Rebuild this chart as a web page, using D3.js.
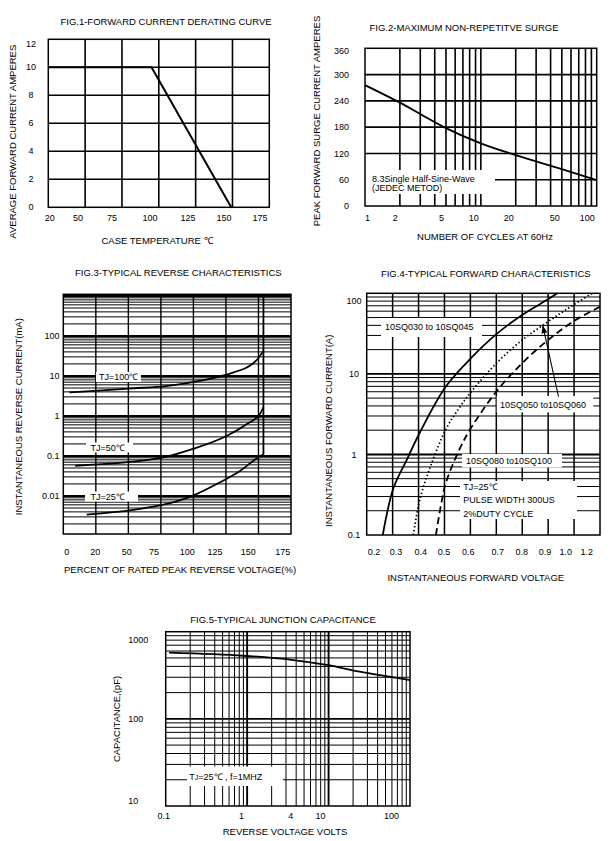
<!DOCTYPE html>
<html><head><meta charset="utf-8">
<script src="https://cdn.jsdelivr.net/npm/d3@7"></script>
<style>
body{margin:0;background:#fff}
text{font-family:"Liberation Sans",Arial,sans-serif;font-size:9px;fill:#000}
text.ttl{font-size:9.5px}
</style>
</head><body>
<svg id="c" width="611" height="841" xmlns="http://www.w3.org/2000/svg"></svg>
<script>
// ---------------- DATA ----------------
// Fig.1 Forward current derating curve
const fig1XTicks = [20, 50, 75, 100, 125, 150, 175];
const fig1YTicks = [0, 2, 4, 6, 8, 10, 12];
const fig1Temp = [20, 101, 155];
const fig1Current = [10, 10, 0];

// Fig.2 Maximum non-repetitive surge
const fig2XTicks = [1, 2, 5, 10, 20, 50, 100];
const fig2YTicks = [0, 60, 120, 180, 240, 300, 360];
const fig2Cycles = [1, 2, 3, 5, 10, 20, 50, 100];
const fig2Surge = [276, 236, 210, 178, 143, 116, 84, 59];

// Fig.3 Typical reverse characteristics
const fig3XTicks = [0, 20, 50, 75, 100, 125, 150, 175];
const fig3YTicks = [0.01, 0.1, 1, 10, 100];
const fig3Tj100X = [2, 56, 84, 112, 139, 151, 157, 161];
const fig3Tj100Y = [3.9, 4.9, 5.6, 7.6, 12.3, 18, 27, 43];
const fig3Tj50X = [6, 80, 105, 134, 149, 158.5, 161];
const fig3Tj50Y = [0.057, 0.089, 0.15, 0.32, 0.63, 1.12, 1.64];
const fig3Tj25X = [14, 56, 84.5, 104.6, 128.8, 144, 157.3, 161];
const fig3Tj25Y = [0.0034, 0.0045, 0.0063, 0.0101, 0.022, 0.043, 0.092, 0.108];
const fig3BreakdownX = [161, 161];
const fig3BreakdownY = [0.108, 1100];

// Fig.4 Typical forward characteristics
const fig4XTicks = [0.2, 0.3, 0.4, 0.5, 0.6, 0.7, 0.8, 0.9, 1.0, 1.2];
const fig4XTickLabels = ["0.2", "0.3", "0.4", "0.5", "0.6", "0.7", "0.8", "0.9", "1.0", "1.2"];
const fig4YTicks = [0.1, 1, 10, 100];
const fig4SolidV = [0.262, 0.303, 0.354, 0.406, 0.506, 0.605, 0.705, 0.804, 0.904, 0.935];
const fig4SolidI = [0.1, 0.38, 0.85, 1.9, 7.0, 16, 32, 55, 86, 100];
const fig4DottedV = [0.380, 0.403, 0.444, 0.506, 0.560, 0.605, 0.705, 0.804, 0.879, 0.946, 1.004, 1.07];
const fig4DottedI = [0.1, 0.26, 0.68, 2.07, 3.9, 6.1, 14, 27, 40, 56, 74, 100];
const fig4DashedV = [0.467, 0.489, 0.506, 0.560, 0.605, 0.705, 0.804, 0.904, 1.003, 1.1];
const fig4DashedI = [0.1, 0.26, 0.45, 1.2, 2.2, 6.3, 14, 27, 46, 68];
const fig4ArrowFrom = [0.94, 5.2];
const fig4ArrowTo = [0.879, 40];

// Fig.5 Typical junction capacitance
const fig5XTicks = [0.1, 1, 4, 10, 100];
const fig5YTicks = [10, 100, 1000];
const fig5Volts = [0.11, 0.9, 3.7, 9.5, 24, 100];
const fig5Cap = [574, 530, 473, 415, 348, 279];

// ---------------- HELPERS ----------------
const svg = d3.select('#c');
svg.append('rect').attr('width', 611).attr('height', 841).attr('fill', '#fff');
const defs = svg.append('defs');
defs.append('marker').attr('id', 'arr').attr('viewBox', '0 0 8 6')
  .attr('markerWidth', 8).attr('markerHeight', 6).attr('refX', 8).attr('refY', 3)
  .attr('markerUnits', 'userSpaceOnUse').attr('orient', 'auto')
  .append('path').attr('d', 'M0,0L8,3L0,6Z').attr('fill', '#000');

function label(x, y, str, anchor) {
  return svg.append('text').attr('x', x).attr('y', y).attr('dy', '0.35em')
    .attr('text-anchor', anchor || 'middle').text(str);
}
function title(x, y, str) {
  return label(x, y, str).attr('class', 'ttl');
}
function vlabel(x, y, str) {
  return svg.append('text').attr('class', 'ttl').attr('transform', `translate(${x},${y}) rotate(-90)`)
    .attr('dy', '0.35em').attr('text-anchor', 'middle').text(str);
}
function gridH(g, ys, p, w) {
  ys.forEach(y => g.append('line').attr('x1', p.x0).attr('x2', p.x1).attr('y1', y).attr('y2', y)
    .attr('stroke', '#000').attr('stroke-width', w));
}
function gridV(g, xs, p, w) {
  xs.forEach(x => g.append('line').attr('x1', x).attr('x2', x).attr('y1', p.y0).attr('y2', p.y1)
    .attr('stroke', '#000').attr('stroke-width', w));
}
function box(g, x0, y0, x1, y1) {
  g.append('rect').attr('x', x0).attr('y', y0).attr('width', x1 - x0).attr('height', y1 - y0).attr('fill', '#fff');
}
function frame(g, p) {
  g.append('rect').attr('x', p.x0).attr('y', p.y0).attr('width', p.x1 - p.x0).attr('height', p.y1 - p.y0)
    .attr('fill', 'none').attr('stroke', '#000').attr('stroke-width', 1.5);
}
function logVals(a, b) {
  const out = [];
  for (let k = Math.floor(Math.log10(a)) - 1; k <= Math.ceil(Math.log10(b)); k++) {
    for (let m = 1; m <= 9; m++) {
      const v = +(m * Math.pow(10, k)).toPrecision(6);
      if (v > a * 1.0001 && v < b * 0.9999) out.push({ v, major: m === 1 });
    }
  }
  return out;
}
function logGridH(g, ys, p, dom) {
  logVals(dom[0], dom[1]).forEach(d => gridH(g, [ys(d.v)], p, d.major ? 1.9 : 1.0));
}
function logGridV(g, xs, p, dom, w) {
  logVals(dom[0], dom[1]).forEach(d => gridV(g, [xs(d.v)], p, w || (d.major ? 1.9 : 1.0)));
}
function curve(g, xs, ys, X, Y, w, dash, smooth) {
  const ln = d3.line().x(d => xs(d[0])).y(d => ys(d[1]))
    .curve(smooth ? d3.curveCatmullRom.alpha(0.5) : d3.curveMonotoneX);
  const path = g.append('path').attr('d', ln(d3.zip(X, Y))).attr('fill', 'none')
    .attr('stroke', '#000').attr('stroke-width', w || 1.8);
  if (dash) path.attr('stroke-dasharray', dash);
  return path;
}

// ---------------- FIG 1 ----------------
{
  const p = { x0: 48.3, x1: 269.3, y0: 39.3, y1: 207.3 };
  const g = svg.append('g');
  const xs = d3.scaleLinear().domain(fig1XTicks).range([48.6, 78, 112, 150, 188, 224, 260]);
  const ys = d3.scaleLinear().domain([0, 12]).range([p.y1, p.y0]);
  gridV(g, d3.range(1, 6).map(i => p.x0 + i * (p.x1 - p.x0) / 6), p, 1.6);
  gridH(g, fig1YTicks.filter(v => v > 0 && v < 12).map(ys), p, 1.6);
  const ln = d3.line().x(d => xs(d[0])).y(d => ys(d[1]));
  g.append('path').attr('d', ln(d3.zip(fig1Temp, fig1Current))).attr('fill', 'none')
    .attr('stroke', '#000').attr('stroke-width', 2);
  frame(g, p);
  fig1XTicks.forEach(v => label(v === 20 ? 49.7 : xs(v), 218.3, String(v)));
  fig1YTicks.forEach(v => label(31, Math.max(ys(v), p.y0 + 5), String(v)));
  title(166, 22, 'FIG.1-FORWARD CURRENT DERATING CURVE');
  vlabel(13, 141.7, 'AVERAGE FORWARD CURRENT AMPERES');
  title(157, 241, 'CASE TEMPERATURE \u2103');
}

// ---------------- FIG 2 ----------------
{
  const p = { x0: 365, x1: 596.7, y0: 48.3, y1: 206 };
  const g = svg.append('g');
  const xs = d3.scaleLog().domain([1, 100]).range([p.x0, p.x1]);
  const ys = d3.scaleLinear().domain([0, 360]).range([p.y1, p.y0]);
  logGridV(g, xs, p, [1, 100], 1.6);
  gridH(g, fig2YTicks.filter(v => v > 0 && v < 360).map(ys), p, 1.6);
  box(g, 365, 170, 495, 194);
  curve(g, xs, ys, fig2Cycles, fig2Surge, 1.9, null, true);
  frame(g, p);
  fig2XTicks.forEach(v => {
    if (v === 1) label(xs(v), 218.3, '1', 'start');
    else label(xs(v) - 2, 218.3, String(v), 'end');
  });
  fig2YTicks.forEach(v => label(349, Math.max(ys(v), p.y0 + 2.5), String(v), 'end'));
  label(372, 178.5, '8.3Single Half-Sine-Wave', 'start');
  label(372, 187.5, '(JEDEC METOD)', 'start');
  title(464, 28, 'FIG.2-MAXIMUM NON-REPETITVE SURGE');
  vlabel(316.7, 121, 'PEAK FORWARD  SURGE CURRENT AMPERES');
  title(485, 237, 'NUMBER OF CYCLES AT 60Hz');
}

// ---------------- FIG 3 ----------------
{
  const p = { x0: 63.3, x1: 291, y0: 294.3, y1: 534 };
  const dom = [0.00112, 1100];
  const g = svg.append('g');
  const xs = d3.scaleLinear().domain(fig3XTicks).range([66.7, 95.3, 126.7, 154, 187.3, 215, 248.3, 282.7]);
  const ys = d3.scaleLog().domain(dom).range([p.y1, p.y0]);
  logGridH(g, ys, p, dom);
  gridV(g, d3.range(1, 7).map(i => p.x0 + i * (p.x1 - p.x0) / 7), p, 1.4);
  box(g, 96, 372, 141, 382);
  box(g, 86, 442.5, 133, 452.5);
  box(g, 85, 491.5, 138, 501.5);
  curve(g, xs, ys, fig3Tj100X, fig3Tj100Y, 1.8);
  curve(g, xs, ys, fig3Tj50X, fig3Tj50Y, 1.8);
  curve(g, xs, ys, fig3Tj25X, fig3Tj25Y, 1.8);
  const ln = d3.line().x(d => xs(d[0])).y(d => ys(d[1]));
  g.append('path').attr('d', ln(d3.zip(fig3BreakdownX, fig3BreakdownY))).attr('fill', 'none')
    .attr('stroke', '#000').attr('stroke-width', 1.8);
  frame(g, p);
  fig3XTicks.forEach(v => label(xs(v), 551.7, String(v)));
  fig3YTicks.forEach(v => label(59.5, ys(v), String(v), 'end'));
  label(99, 377, 'TJ=100\u2103', 'start');
  label(90.5, 447.5, 'TJ=50\u2103', 'start');
  label(90.5, 496.7, 'TJ=25\u2103', 'start');
  title(178.3, 272.7, 'FIG.3-TYPICAL REVERSE CHARACTERISTICS');
  vlabel(18.3, 416.7, 'INSTANTANEOUS REVERSE CURRENT(mA)');
  title(180, 569.3, 'PERCENT OF RATED PEAK REVERSE VOLTAGE(%)');
}

// ---------------- FIG 4 ----------------
{
  const p = { x0: 366.7, x1: 600, y0: 293.3, y1: 535 };
  const dom = [0.1, 100];
  const g = svg.append('g');
  const xs = d3.scaleLinear().domain([0.2, 1.1]).range([p.x0, p.x1]);
  const xl = d3.scaleLinear().domain(fig4XTicks).range([374, 396, 420.7, 444, 468.3, 497.7, 521.7, 545, 565.7, 586.7]);
  const ys = d3.scaleLog().domain(dom).range([p.y1, p.y0]);
  logGridH(g, ys, p, dom);
  gridV(g, d3.range(0.3, 1.05, 0.1).map(xs), p, 1.5);
  box(g, 381, 318, 482, 337);
  box(g, 496.7, 396, 593.3, 412.5);
  box(g, 462, 454, 562, 467.5);
  box(g, 460, 481, 577, 519);
  curve(g, xs, ys, fig4SolidV, fig4SolidI, 1.8, null, true);
  curve(g, xs, ys, fig4DottedV, fig4DottedI, 1.8, '1.4,2.4', true);
  curve(g, xs, ys, fig4DashedV, fig4DashedI, 1.8, '7,4', true);
  g.append('line')
    .attr('x1', xs(fig4ArrowFrom[0])).attr('y1', ys(fig4ArrowFrom[1]))
    .attr('x2', xs(fig4ArrowTo[0])).attr('y2', ys(fig4ArrowTo[1]))
    .attr('stroke', '#000').attr('stroke-width', 1.1).attr('marker-end', 'url(#arr)');
  frame(g, p);
  fig4XTicks.forEach((v, i) => label(xl(v), 551.7, fig4XTickLabels[i]));
  fig4YTicks.forEach(v => label(354, Math.max(ys(v), p.y0 + 8), String(v)));
  label(385, 326.5, '10SQ030 to 10SQ045', 'start');
  label(500, 404.5, '10SQ050 to10SQ060', 'start');
  label(466, 460.5, '10SQ080 to10SQ100', 'start');
  label(463.3, 486.7, 'TJ=25\u2103', 'start');
  label(463.3, 500, 'PULSE WIDTH 300US', 'start');
  label(463.3, 514.3, '2%DUTY CYCLE', 'start');
  title(485.8, 274, 'FIG.4-TYPICAL FORWARD CHARACTERISTICS');
  vlabel(328.3, 430.8, 'INSTANTANEOUS FORWARD CURRENT(A)');
  title(475.8, 578, 'INSTANTANEOUS FORWARD VOLTAGE');
}

// ---------------- FIG 5 ----------------
{
  const p = { x0: 165.7, x1: 410, y0: 631.7, y1: 806 };
  const g = svg.append('g');
  const xs = d3.scaleLog().domain([0.1, 100]).range([p.x0, p.x1]);
  const ys = d3.scaleLog().domain([10, 1000]).range([p.y1, p.y0]);
  logGridH(g, ys, p, [10, 1000]);
  logGridV(g, xs, p, [0.1, 100]);
  box(g, 187, 766.5, 283, 786);
  curve(g, xs, ys, fig5Volts, fig5Cap, 1.8, null, true);
  frame(g, p);
  fig5XTicks.forEach(v => {
    if (v === 0.1) label(xs(v) - 2, 816, '0.1');
    else label(Math.min(xs(v) - 3, p.x1 - 11), 816, String(v), 'end');
  });
  fig5YTicks.forEach(v => label(128.3, Math.min(Math.max(ys(v), p.y0 + 8), p.y1 - 5), String(v), 'start'));
  const t = svg.append('text').attr('x', 189.3).attr('y', 777).attr('dy', '0.35em');
  t.append('tspan').text('T');
  t.append('tspan').attr('font-size', '7px').text('J');
  t.append('tspan').text('=25\u2103 ,  f=1MHZ');
  title(283, 619.3, 'FIG.5-TYPICAL JUNCTION CAPACITANCE');
  vlabel(116.7, 719, 'CAPACITANCE,(pF)');
  title(285, 832, 'REVERSE VOLTAGE VOLTS');
}
</script>
</body></html>
